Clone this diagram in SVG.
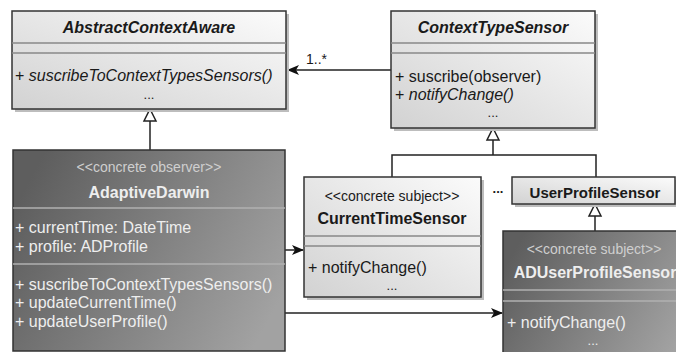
<svg xmlns="http://www.w3.org/2000/svg" width="676" height="352" viewBox="0 0 676 352">
<style>
text{font-family:"Liberation Sans",Arial,sans-serif;font-size:16px;fill:#1a1a1a}
.b{font-weight:bold}
.i{font-style:italic}
.st{font-size:14px}
.m{text-anchor:middle}
.d text{fill:#eeeeee}
.d .st{fill:#cfcfcf}
.box{stroke:#333;stroke-width:1.5}
.sep{stroke:#888;stroke-width:1.5}
.d .sep{stroke:#b0b0b0}
.sh{fill:#bdbdbd}
.ln{stroke:#222;stroke-width:1.5;fill:none}
.tri{fill:#fff;stroke:#222;stroke-width:1.5}
</style>
<defs>
<linearGradient id="lg" x1="0" y1="1" x2="1" y2="0">
<stop offset="0" stop-color="#d2d2d2"/>
<stop offset="1" stop-color="#fbfbfb"/>
</linearGradient>
<linearGradient id="dg" x1="0" y1="0.3" x2="1" y2="0.7">
<stop offset="0" stop-color="#5e5e5e"/>
<stop offset="1" stop-color="#a2a2a2"/>
</linearGradient>
<marker id="ar" markerWidth="12" markerHeight="10" refX="11" refY="5" orient="auto" markerUnits="userSpaceOnUse">
<path d="M0,0 L12,5 L0,10 L3,5 z" fill="#111"/>
</marker>
</defs>

<g id="connectors">
<line class="ln" x1="391" y1="70" x2="288" y2="70" marker-end="url(#ar)"/>
<text x="306" y="64" style="font-size:14px">1..*</text>
<line class="ln" x1="150" y1="121" x2="150" y2="150"/>
<path class="tri" d="M150,109 L156,121 L144,121 z"/>
<path class="ln" d="M493,140 V155 M392,177 V155 H596 V177"/>
<path class="tri" d="M493,128 L499,140 L487,140 z"/>
<line class="ln" x1="595" y1="216" x2="595" y2="231"/>
<path class="tri" d="M595,204 L601,216 L589,216 z"/>
<line class="ln" x1="285" y1="250" x2="303" y2="250" marker-end="url(#ar)"/>
<line class="ln" x1="285" y1="313" x2="502" y2="313" marker-end="url(#ar)"/>
<text class="b" x="498" y="193" style="font-size:13px" text-anchor="middle">...</text>
</g>

<g id="AbstractContextAware">
<rect class="sh" x="15" y="14" width="274" height="98"/>
<rect class="box" x="12" y="11" width="274" height="98" fill="url(#lg)"/>
<text class="b i m" x="149" y="33">AbstractContextAware</text>
<line class="sep" x1="12" y1="43" x2="286" y2="43"/>
<line class="sep" x1="12" y1="53" x2="286" y2="53"/>
<text x="15" y="81">+ <tspan class="i">suscribeToContextTypesSensors()</tspan></text>
<text class="m" x="149" y="99" style="font-size:13px">...</text>
</g>

<g id="ContextTypeSensor">
<rect class="sh" x="394" y="14" width="204" height="117"/>
<rect class="box" x="391" y="11" width="204" height="117" fill="url(#lg)"/>
<text class="b i m" x="493" y="33">ContextTypeSensor</text>
<line class="sep" x1="391" y1="43" x2="595" y2="43"/>
<line class="sep" x1="391" y1="53" x2="595" y2="53"/>
<text x="395" y="82">+ suscribe(observer)</text>
<text x="395" y="100">+ <tspan class="i">notifyChange()</tspan></text>
<text class="m" x="493" y="117" style="font-size:13px">...</text>
</g>

<g id="AdaptiveDarwin" class="d">
<rect class="box" x="13" y="150" width="272" height="201" fill="url(#dg)"/>
<text class="st m" x="149" y="172">&lt;&lt;concrete observer&gt;&gt;</text>
<text class="b m" x="149" y="198">AdaptiveDarwin</text>
<line class="sep" x1="13" y1="208" x2="285" y2="208"/>
<text x="15" y="233">+ currentTime: DateTime</text>
<text x="15" y="252">+ profile: ADProfile</text>
<line class="sep" x1="13" y1="264" x2="285" y2="264"/>
<text x="15" y="290">+ suscribeToContextTypesSensors()</text>
<text x="15" y="308">+ updateCurrentTime()</text>
<text x="15" y="327">+ updateUserProfile()</text>
</g>

<g id="CurrentTimeSensor">
<rect class="sh" x="307" y="180" width="177" height="120"/>
<rect class="box" x="304" y="177" width="177" height="120" fill="url(#lg)"/>
<text class="st m" x="392" y="201">&lt;&lt;concrete subject&gt;&gt;</text>
<text class="b m" x="392" y="224">CurrentTimeSensor</text>
<line class="sep" x1="304" y1="236" x2="481" y2="236"/>
<line class="sep" x1="304" y1="246" x2="481" y2="246"/>
<text x="308" y="273">+ notifyChange()</text>
<text class="m" x="392" y="290" style="font-size:13px">...</text>
</g>

<g id="UserProfileSensor">
<rect class="sh" x="515" y="180" width="163" height="27"/>
<rect class="box" x="512" y="177" width="163" height="27" fill="url(#lg)"/>
<text class="b m" x="595" y="198" style="font-size:15px">UserProfileSensor</text>
</g>

<g id="ADUserProfileSensor" class="d">
<rect class="box" x="503" y="231" width="186" height="130" fill="url(#dg)"/>
<text class="st m" x="594" y="254">&lt;&lt;concrete subject&gt;&gt;</text>
<text class="b m" x="595" y="278">ADUserProfileSensor</text>
<line class="sep" x1="503" y1="290" x2="689" y2="290"/>
<line class="sep" x1="503" y1="301" x2="689" y2="301"/>
<text x="507" y="328">+ notifyChange()</text>
<text class="m" x="593" y="345" style="font-size:13px">...</text>
</g>
</svg>
